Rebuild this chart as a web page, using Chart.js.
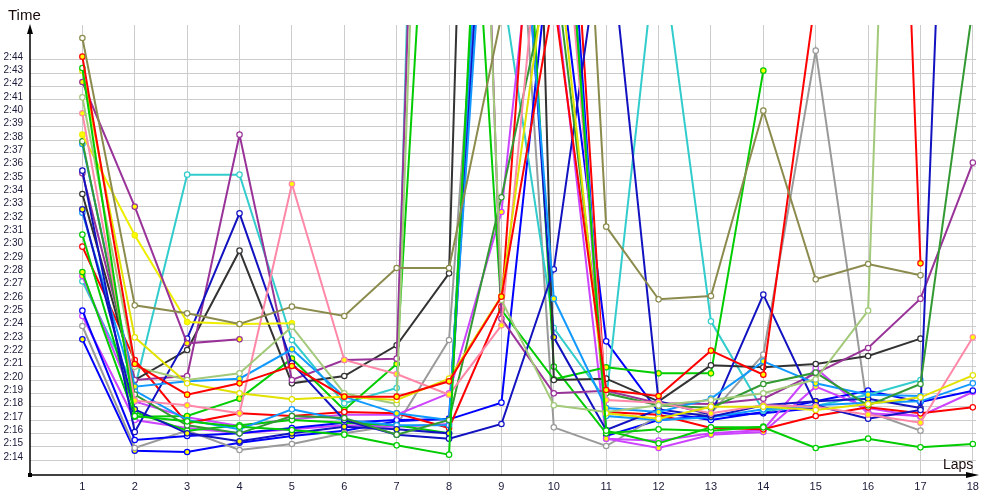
<!DOCTYPE html>
<html><head><meta charset="utf-8">
<script src="https://cdn.jsdelivr.net/npm/chart.js@4.4.1/dist/chart.umd.min.js"></script>
<style>html,body{margin:0;padding:0;background:#fff;}#wrap{width:1000px;height:500px;position:relative;}</style>
</head><body><div id="wrap"><canvas id="c" width="1000" height="500"></canvas></div>
<script>
// ---- data ----
const laps = [1,2,3,4,5,6,7,8,9,10,11,12,13,14,15,16,17,18];
const yTickLabels = ['2:14','2:15','2:16','2:17','2:18','2:19','2:20','2:21','2:22','2:23','2:24','2:25','2:26','2:27','2:28','2:29','2:30','2:31','2:32','2:33','2:34','2:35','2:36','2:37','2:38','2:39','2:40','2:41','2:42','2:43','2:44'];
// lap times in seconds, one array per driver
const olive    = [165.65,145.6,145.0,144.2,145.5,144.8,148.4,148.4,167.3,223,151.5,146.05,146.3,160.2,147.55,148.7,147.85,null];
const redA     = [164.25,141.2,138.9,139.75,141.05,138.75,138.75,139.9,146.25,168.7,139.25,138.8,142.2,140.4,168.8,252,148.75,null];
const greenA   = [163.4,137.3,136.9,136.5,136.25,135.9,135.1,134.4,215,190,136.2,135.25,136.45,136.45,134.9,135.6,134.95,135.2];
const yellowA  = [163.2,143.2,139.75,139.0,138.55,138.75,138.5,140.1,146.3,175,137.5,137.1,138.0,138.0,137.75,138.2,138.7,140.35];
const purpleA  = [162.35,153.0,142.75,143.05,null,null,null,null,null,null,null,null,null,null,null,null,null,null];
const lgreen   = [161.2,141.0,140.0,140.5,144.0,139.0,138.2,250,146.0,138.1,137.6,138.1,138.5,139.0,140.05,145.2,256,null];
const pinkA    = [160.0,138.45,138.1,137.5,154.7,141.5,140.45,138.9,144.1,185,138.5,138.3,137.5,138.1,138.0,137.4,136.8,143.2];
const yellowB  = [158.4,150.85,144.35,144.2,144.25,null,null,null,null,null,null,null,null,null,null,null,null,null];
const dgreen   = [157.9,138.9,136.6,136.0,137.3,137.15,135.9,137.0,153.7,172,139.0,138.1,137.9,139.7,140.55,138.1,139.7,168];
const lblueA   = [157.7,139.5,139.9,140.1,142.3,138.75,137.5,137.0,195,146.1,137.9,137.6,138.6,141.4,139.75,138.9,138.8,null];
const dblueA   = [155.7,136.1,143.1,152.5,141.25,137.0,135.9,135.6,136.7,148.3,176,138.4,137.4,146.4,138.1,137.1,137.75,237];
const purpleB  = [155.5,140.0,140.3,158.4,140.0,141.5,141.6,260,144.6,139.0,139.2,138.25,138.2,138.6,140.5,142.4,146.1,156.3];
const black    = [153.95,140.0,142.25,149.7,139.75,140.3,142.6,148.0,280,140.0,140.1,138.4,141.1,140.95,141.2,141.8,143.1,null];
const dblueB   = [152.8,137.8,136.0,135.4,136.0,136.5,136.3,136.0,200,143.2,136.25,137.8,137.25,138.1,138.4,138.6,137.9,null];
const lblueB   = [152.55,139.2,137.0,136.3,137.8,137.0,136.6,136.6,205,190,137.3,137.0,137.2,137.8,138.1,138.3,138.4,139.75];
const greenB   = [150.9,137.6,136.2,136.6,137.0,136.8,136.6,136.0,210,141.0,136.0,136.3,136.2,136.5,null,null,null,null];
const redB     = [150.0,141.5,136.75,137.5,137.3,137.6,137.5,136.4,145.5,200,137.6,137.4,136.4,136.3,137.3,137.95,137.5,137.95];
const greenC   = [148.1,137.25,137.3,138.6,141.6,137.75,141.2,207,145.25,140.05,140.95,140.5,140.5,163.2,null,null,null,null];
const violetA  = [147.8,138.4,137.2,136.55,137.05,137.4,137.4,139.0,152.6,189,135.6,134.9,135.9,136.1,139.5,137.9,137.25,null];
const cyan     = [147.4,139.4,155.4,155.4,143.0,138.25,139.4,280,170,143.9,138.5,174,144.4,137.7,138.05,138.9,140.0,null];
const blueA    = [145.2,135.5,135.8,136.0,136.4,136.8,137.0,137.05,138.3,175,142.9,137.6,137.0,137.6,138.4,139.2,138.35,139.2];
const violetB  = [144.8,137.0,136.4,136.0,136.3,136.6,136.5,136.7,200,170,135.6,135.45,136.0,136.25,140.9,137.5,137.3,139.1];
const gray     = [144.05,134.9,136.2,134.75,135.2,136.0,136.6,143.0,197,136.45,135.05,137.3,137.5,141.9,164.7,137.6,136.2,null];
const blueB    = [143.05,134.7,134.6,135.3,135.8,136.2,136.9,137.1,200,195,135.8,137.0,137.3,137.5,137.9,null,null,null];

const seriesData = [olive,redA,greenA,yellowA,purpleA,lgreen,pinkA,yellowB,dgreen,lblueA,dblueA,purpleB,black,dblueB,lblueB,greenB,redB,greenC,violetA,cyan,blueA,violetB,gray,blueB];
// ---- styles ----
const lineColors = ['#8b8b4e','#ff0000','#00cc00','#e2e200','#993399','#a3c97a','#ff88a8','#eeee00','#339933','#1199ff','#1212c0','#993399','#333333','#1212c0','#1199ff','#00cc00','#ff0000','#00cc00','#cc44ff','#33cccc','#0000ff','#cc44ff','#9a9a9a','#0000ff'];
const markerFill = ['#fff','#ffff00','#fff','#fff','#ffff00','#fff','#ffff00','#ffff00','#fff','#ffff00','#fff','#fff','#fff','#ffff00','#fff','#fff','#fff','#ffff00','#ffff00','#fff','#fff','#fff','#fff','#ffff00'];

const toSec = s => { const [m, r] = s.split(':'); return (+m) * 60 + (+r); };
const yTickValues = yTickLabels.map(toSec);
const labelFor = {}; yTickLabels.forEach(l => labelFor[toSec(l)] = l);

const datasets = seriesData.map((arr, i) => ({
  data: laps.map((l, j) => ({x: l, y: arr[j]})),
  borderColor: lineColors[i],
  backgroundColor: markerFill[i],
  pointBackgroundColor: markerFill[i],
  pointBorderColor: lineColors[i],
  pointBorderWidth: 1.2,
  pointRadius: 2.7,
  borderWidth: 2,
  tension: 0,
  spanGaps: false
}));

const axesPlugin = {
  id: 'axesDeco',
  afterDraw(chart) {
    const ctx = chart.ctx, a = chart.chartArea;
    ctx.save();
    ctx.strokeStyle = '#000'; ctx.fillStyle = '#000'; ctx.lineWidth = 1.5;
    ctx.beginPath(); ctx.moveTo(a.left, a.bottom); ctx.lineTo(a.left, 32); ctx.stroke();
    ctx.beginPath(); ctx.moveTo(a.left, 24); ctx.lineTo(a.left - 3, 34); ctx.lineTo(a.left + 3, 34); ctx.closePath(); ctx.fill();
    ctx.beginPath(); ctx.moveTo(a.left, a.bottom); ctx.lineTo(970, a.bottom); ctx.stroke();
    ctx.beginPath(); ctx.moveTo(979, a.bottom); ctx.lineTo(966, a.bottom - 3); ctx.lineTo(966, a.bottom + 3); ctx.closePath(); ctx.fill();
    ctx.fillRect(a.left - 2, a.bottom - 2, 4, 4);
    ctx.fillStyle = '#1a0a0a';
    ctx.textBaseline = 'alphabetic'; ctx.textAlign = 'left';
    ctx.font = '15px "Liberation Sans", Arial, sans-serif';
    ctx.fillText('Time', 8, 20);
    ctx.font = '14px "Liberation Sans", Arial, sans-serif';
    ctx.fillText('Laps', 943, 469);
    ctx.restore();
  }
};

new Chart(document.getElementById('c'), {
  type: 'line',
  data: { datasets },
  options: {
    responsive: false,
    animation: false,
    events: [],
    layout: { padding: { top: 25, right: 24, left: 0, bottom: 0 } },
    plugins: { legend: { display: false }, tooltip: { enabled: false } },
    scales: {
      x: {
        type: 'linear', min: 0, max: 18.06,
        afterBuildTicks: s => { s.ticks = laps.map(v => ({ value: v })); },
        afterFit: s => { s.height = 25; },
        grid: { color: '#cccccc', lineWidth: 1, drawTicks: false },
        border: { display: false },
        ticks: { padding: 5, color: '#1a1a3a', font: { family: '"Liberation Sans", Arial', size: 11 }, callback: v => String(v), maxRotation: 0, autoSkip: false }
      },
      y: {
        type: 'linear', min: 132.875, max: 166.625,
        afterBuildTicks: s => { s.ticks = yTickValues.map(v => ({ value: v })); },
        afterFit: s => { s.width = 30; },
        grid: { color: '#cccccc', lineWidth: 1, drawTicks: false },
        border: { display: false },
        ticks: { padding: 7, labelOffset: -3, color: '#1a1a3a', font: { family: '"Liberation Sans", Arial', size: 10 }, callback: v => labelFor[v] || '', autoSkip: false }
      }
    }
  },
  plugins: [axesPlugin]
});
</script></body></html>
